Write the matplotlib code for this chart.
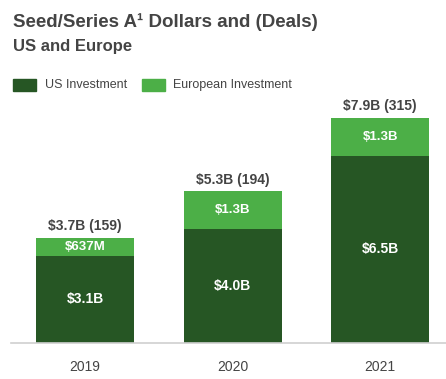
import matplotlib.pyplot as plt
import numpy as np

plt.rcParams['font.family'] = ['Liberation Sans', 'DejaVu Sans']

years = ["2019", "2020", "2021"]
us_values = [3.05, 4.0, 6.55]
eu_values = [0.64, 1.3, 1.33]
us_labels = ["$3.1B", "$4.0B", "$6.5B"]
eu_labels = ["$637M", "$1.3B", "$1.3B"]
total_labels = ["$3.7B (159)", "$5.3B (194)", "$7.9B (315)"]

dark_green = "#265624"
light_green = "#4caf47"
text_gray = "#444444"

fig = plt.figure(figsize=(4.46, 3.79), dpi=100)
ax = fig.add_axes([11 / 446, 36 / 379, 435 / 446, 243 / 379])

x = np.arange(len(years))
width = 0.664
ax.bar(x, us_values, width, color=dark_green)
ax.bar(x, eu_values, width, bottom=us_values, color=light_green)

for i in range(len(years)):
    us, eu = us_values[i], eu_values[i]
    ax.text(x[i], us / 2, us_labels[i], ha='center', va='center',
            color='white', fontsize=10, fontweight='bold')
    ax.text(x[i], us + eu / 2, eu_labels[i], ha='center', va='center',
            color='white', fontsize=9.5, fontweight='bold')
    ax.text(x[i], us + eu + 0.17, total_labels[i], ha='center', va='bottom',
            color=text_gray, fontsize=10, fontweight='bold')

ax.set_xlim(-0.502, 2.447)
ax.set_ylim(0, 8.5)
ax.set_xticks(x)
ax.set_xticklabels(years, fontsize=10, color=text_gray)
ax.tick_params(axis='x', length=0, pad=12)
ax.set_yticks([])
for s in ['top', 'right', 'left']:
    ax.spines[s].set_visible(False)
ax.spines['bottom'].set_color('#d0d0d0')
ax.spines['bottom'].set_linewidth(1.2)

# title and legend
fig.text(13 / 446, 1 - 22 / 379, "Seed/Series A\u00b9 Dollars and (Deals)", fontsize=13.5,
         fontweight='bold', color=text_gray, va='center')
fig.text(13 / 446, 1 - 46 / 379, "US and Europe", fontsize=12,
         fontweight='bold', color=text_gray, va='center')

fig.patches.append(plt.Rectangle((13 / 446, 1 - 91 / 379), 23 / 446, 12 / 379,
                                 transform=fig.transFigure, color=dark_green))
fig.text(45 / 446, 1 - 85 / 379, "US Investment", fontsize=9, color=text_gray, va='center')
fig.patches.append(plt.Rectangle((142 / 446, 1 - 91 / 379), 23 / 446, 12 / 379,
                                 transform=fig.transFigure, color=light_green))
fig.text(173 / 446, 1 - 85 / 379, "European Investment", fontsize=9, color=text_gray, va='center')

fig.savefig("out.png", dpi=100)
